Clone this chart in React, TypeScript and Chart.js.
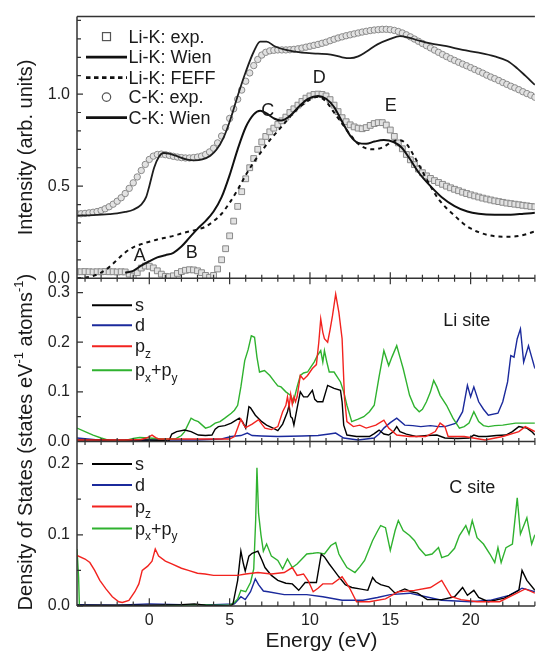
import React, { useEffect, useRef } from 'react';
import { Chart, registerables } from 'chart.js';

Chart.register(...registerables);

const FONT = '"Liberation Sans", Arial, Helvetica, sans-serif';

// ---------- axes ----------
const energyMin = -4.5;
const energyMax = 24;
const energyTicks = [0, 5, 10, 15, 20];
const intensityTicks = [0, 0.5, 1.0];
const liDosTicks = [0, 0.1, 0.2, 0.3];
const cDosTicks = [0, 0.1, 0.2];
const intensityMax = 1.421;
const liDosMax = 0.329;
const cDosMax = 0.231;

// ---------- top panel: experimental spectra ----------
const expEnergy = [
  -4.5, -4.25, -4, -3.75, -3.5, -3.25, -3, -2.75, -2.5, -2.25,
  -2, -1.75, -1.5, -1.25, -1, -0.75, -0.5, -0.25, 0, 0.25,
  0.5, 0.75, 1, 1.25, 1.5, 1.75, 2, 2.25, 2.5, 2.75,
  3, 3.25, 3.5, 3.75, 4, 4.25, 4.5, 4.75, 5, 5.25,
  5.5, 5.75, 6, 6.25, 6.5, 6.75, 7, 7.25, 7.5, 7.75,
  8, 8.25, 8.5, 8.75, 9, 9.25, 9.5, 9.75, 10, 10.25,
  10.5, 10.75, 11, 11.25, 11.5, 11.75, 12, 12.25, 12.5, 12.75,
  13, 13.25, 13.5, 13.75, 14, 14.25, 14.5, 14.75, 15, 15.25,
  15.5, 15.75, 16, 16.25, 16.5, 16.75, 17, 17.25, 17.5, 17.75,
  18, 18.25, 18.5, 18.75, 19, 19.25, 19.5, 19.75, 20, 20.25,
  20.5, 20.75, 21, 21.25, 21.5, 21.75, 22, 22.25, 22.5, 22.75,
  23, 23.25, 23.5, 23.75, 24,
];
const liKExp = [
  0.035, 0.035, 0.036, 0.035, 0.034, 0.035, 0.035, 0.036, 0.035, 0.035,
  0.034, 0.035, 0.034, 0.022, 0.012, 0.03, 0.055, 0.066, 0.065, 0.056,
  0.04, 0.022, 0.01, 0.008, 0.013, 0.026, 0.036, 0.043, 0.046, 0.045,
  0.04, 0.03, 0.015, 0.005, 0.015, 0.05, 0.1, 0.16, 0.23, 0.31,
  0.39, 0.47, 0.54, 0.6, 0.65, 0.7, 0.74, 0.77, 0.795, 0.815,
  0.835, 0.855, 0.875, 0.9, 0.92, 0.94, 0.96, 0.978, 0.99, 0.998,
  1.0, 0.998, 0.99, 0.97, 0.94, 0.905, 0.872, 0.85, 0.833, 0.822,
  0.815, 0.812, 0.818, 0.83, 0.84, 0.845, 0.845, 0.832, 0.805, 0.77,
  0.735, 0.703, 0.672, 0.643, 0.617, 0.593, 0.573, 0.556, 0.542, 0.53,
  0.52, 0.51, 0.5, 0.491, 0.483, 0.475, 0.467, 0.46, 0.453, 0.447,
  0.441, 0.435, 0.43, 0.425, 0.42, 0.416, 0.412, 0.408, 0.405, 0.402,
  0.399, 0.396, 0.393, 0.39, 0.388,
];
const cKExp = [
  0.35, 0.35, 0.352, 0.355, 0.358, 0.362, 0.368, 0.377, 0.388, 0.402,
  0.418, 0.437, 0.46, 0.488, 0.518, 0.55, 0.585, 0.618, 0.645, 0.663,
  0.672, 0.674, 0.671, 0.667, 0.662, 0.658, 0.655, 0.653, 0.653, 0.655,
  0.658, 0.663, 0.672, 0.686, 0.706, 0.735, 0.772, 0.818, 0.868, 0.92,
  0.972, 1.022, 1.07, 1.115, 1.155, 1.188, 1.212, 1.227, 1.235, 1.238,
  1.24, 1.24, 1.24, 1.241, 1.243, 1.246, 1.25, 1.255, 1.26, 1.265,
  1.27, 1.276, 1.282, 1.29, 1.298, 1.305, 1.311, 1.317, 1.322, 1.327,
  1.332, 1.337, 1.341, 1.345, 1.348, 1.35, 1.352, 1.352, 1.35, 1.346,
  1.34, 1.332, 1.322, 1.311, 1.299, 1.287, 1.275, 1.263, 1.251, 1.239,
  1.227, 1.215, 1.204, 1.193, 1.183, 1.173, 1.163, 1.154, 1.144, 1.134,
  1.124, 1.114, 1.103, 1.093, 1.084, 1.074, 1.063, 1.053, 1.043, 1.034,
  1.024, 1.013, 1.003, 0.994, 0.983,
];

// ---------- top panel: calculated spectra [energy, intensity] ----------
const liKWien = [
  [-1.5, 0.03], [-1.0, 0.04], [-0.5, 0.068], [0, 0.092], [0.5, 0.113], [1.0, 0.125],
  [1.5, 0.138], [2.0, 0.172], [2.5, 0.22], [3.0, 0.268], [3.5, 0.31], [4.0, 0.362],
  [4.5, 0.44], [5.0, 0.56], [5.5, 0.7], [6.0, 0.82], [6.5, 0.89], [6.9, 0.91],
  [7.3, 0.895], [7.8, 0.866], [8.2, 0.856], [8.8, 0.885], [9.4, 0.94], [9.9, 0.975],
  [10.5, 0.99], [11.0, 0.975], [11.5, 0.93], [12.0, 0.85], [12.5, 0.775], [13.0, 0.735],
  [13.5, 0.73], [14.0, 0.742], [14.6, 0.75], [15.2, 0.74], [15.7, 0.71], [16.2, 0.65],
  [16.8, 0.57], [17.5, 0.5], [18.2, 0.44], [19.0, 0.392], [19.8, 0.362], [20.5, 0.35],
  [21.5, 0.345], [22.5, 0.345], [23.3, 0.35], [24.0, 0.355],
];
const liKFeff = [
  [-4.5, 0.0], [-4.0, 0.003], [-3.5, 0.012], [-3.0, 0.03], [-2.5, 0.06], [-2.0, 0.1],
  [-1.5, 0.14], [-1.0, 0.168], [-0.5, 0.185], [0, 0.198], [0.5, 0.21], [1.0, 0.22],
  [1.5, 0.23], [2.0, 0.243], [2.5, 0.254], [3.0, 0.265], [3.5, 0.28], [4.0, 0.31],
  [4.5, 0.35], [5.0, 0.41], [5.5, 0.48], [6.0, 0.56], [6.5, 0.63], [7.0, 0.69],
  [7.5, 0.75], [8.0, 0.8], [8.5, 0.85], [9.0, 0.9], [9.5, 0.94], [10.0, 0.97],
  [10.5, 0.985], [11.0, 0.96], [11.5, 0.9], [12.0, 0.84], [12.5, 0.78], [13.0, 0.73],
  [13.5, 0.705], [14.0, 0.7], [14.5, 0.71], [15.0, 0.735], [15.5, 0.75], [16.0, 0.73],
  [16.5, 0.66], [17.0, 0.58], [17.5, 0.5], [18.0, 0.43], [18.5, 0.38], [19.0, 0.34],
  [19.5, 0.3], [20.0, 0.27], [20.5, 0.25], [21.0, 0.236], [21.5, 0.228], [22.0, 0.225],
  [22.5, 0.225], [23.0, 0.23], [23.5, 0.24], [24.0, 0.255],
];
const cKWien = [
  [-4.5, 0.34], [-3.5, 0.343], [-2.5, 0.348], [-2.0, 0.352], [-1.5, 0.36], [-1.0, 0.372],
  [-0.5, 0.4], [-0.2, 0.44], [0.0, 0.5], [0.3, 0.6], [0.6, 0.66], [0.9, 0.68],
  [1.3, 0.675], [1.8, 0.66], [2.3, 0.645], [2.8, 0.64], [3.3, 0.645], [3.8, 0.665],
  [4.2, 0.7], [4.6, 0.76], [5.0, 0.85], [5.5, 0.99], [6.0, 1.12], [6.5, 1.23],
  [6.9, 1.285], [7.3, 1.285], [7.8, 1.26], [8.5, 1.24], [9.5, 1.225], [10.5, 1.22],
  [11.3, 1.215], [12.0, 1.2], [12.5, 1.195], [13.0, 1.205], [13.5, 1.23], [14.2, 1.27],
  [15.0, 1.3], [15.6, 1.315], [16.2, 1.305], [16.8, 1.29], [17.5, 1.275], [18.5, 1.26],
  [19.5, 1.24], [20.5, 1.225], [21.5, 1.205], [22.3, 1.18], [22.9, 1.14], [23.4, 1.1],
  [24.0, 1.05],
];

// ---------- middle panel: Li site DOS [energy, states] ----------
const liS = [
  [-4.5, 0.003], [-2.0, 0.003], [0.0, 0.003], [1.0, 0.002], [1.2, 0.0], [1.4, 0.015],
  [1.7, 0.02], [2.2, 0.023], [2.6, 0.02], [3.05, 0.013], [3.5, 0.012], [3.9, 0.013],
  [4.1, 0.025], [4.3, 0.03], [4.7, 0.032], [5.1, 0.037], [5.6, 0.047], [5.8, 0.04],
  [6.0, 0.027], [6.2, 0.07], [6.3, 0.068], [6.6, 0.053], [7.0, 0.04], [7.3, 0.033],
  [7.7, 0.027], [8.0, 0.022], [8.3, 0.035], [8.6, 0.06], [8.7, 0.073], [8.8, 0.05],
  [8.9, 0.047], [9.0, 0.033], [9.2, 0.067], [9.4, 0.1], [9.6, 0.09], [9.85, 0.09],
  [10.15, 0.103], [10.3, 0.085], [10.46, 0.08], [10.8, 0.08], [11.1, 0.113], [11.5, 0.107],
  [11.9, 0.103], [12.0, 0.08], [12.1, 0.033], [12.3, 0.013], [12.9, 0.01], [13.7, 0.01],
  [14.0, 0.016], [14.3, 0.023], [14.6, 0.015], [14.9, 0.013], [15.2, 0.02], [15.4, 0.03],
  [15.6, 0.02], [16.0, 0.015], [16.6, 0.01], [17.3, 0.012], [17.9, 0.013], [18.4, 0.007],
  [19.2, 0.006], [19.9, 0.007], [20.2, 0.013], [20.5, 0.01], [21.0, 0.01], [21.6, 0.012],
  [22.2, 0.013], [22.6, 0.02], [23.0, 0.03], [23.5, 0.027], [23.8, 0.02], [24.0, 0.013],
];
const liD = [
  [-4.5, 0.007], [-3.5, 0.004], [-2.1, 0.0], [-1.0, 0.002], [1.0, 0.003], [3.0, 0.003],
  [4.5, 0.005], [5.1, 0.01], [5.7, 0.012], [6.1, 0.017], [6.4, 0.012], [7.0, 0.011],
  [8.0, 0.01], [9.5, 0.011], [10.5, 0.012], [11.2, 0.015], [11.6, 0.017], [12.1, 0.007],
  [13.0, 0.003], [14.0, 0.007], [14.3, 0.015], [14.6, 0.027], [15.0, 0.038], [15.4, 0.047],
  [15.9, 0.033], [16.4, 0.032], [16.9, 0.03], [17.5, 0.032], [18.0, 0.03], [18.4, 0.03],
  [19.1, 0.037], [19.5, 0.06], [19.8, 0.113], [20.0, 0.09], [20.2, 0.11], [20.5, 0.08],
  [20.8, 0.065], [21.1, 0.053], [21.7, 0.057], [22.0, 0.08], [22.3, 0.12], [22.5, 0.173],
  [22.7, 0.17], [22.9, 0.207], [23.1, 0.227], [23.3, 0.16], [23.6, 0.193], [23.8, 0.17],
  [24.0, 0.147],
];
const liPz = [
  [-4.5, 0.003], [-3.0, 0.003], [-1.5, 0.003], [-0.5, 0.004], [-0.1, 0.008], [0.17, 0.013],
  [0.4, 0.008], [0.6, 0.005], [2.0, 0.005], [3.5, 0.005], [5.0, 0.005], [5.3, 0.01],
  [5.5, 0.027], [5.7, 0.045], [5.85, 0.035], [6.0, 0.028], [6.4, 0.035], [6.8, 0.044],
  [7.0, 0.035], [7.2, 0.027], [7.6, 0.024], [8.0, 0.03], [8.3, 0.06], [8.5, 0.073],
  [8.6, 0.09], [8.7, 0.07], [8.8, 0.095], [8.9, 0.075], [9.0, 0.09], [9.1, 0.08],
  [9.2, 0.09], [9.4, 0.133], [9.6, 0.125], [9.85, 0.133], [10.15, 0.147], [10.4, 0.155],
  [10.55, 0.2], [10.67, 0.247], [10.8, 0.22], [10.9, 0.207], [11.1, 0.2], [11.25, 0.225],
  [11.4, 0.253], [11.6, 0.297], [11.8, 0.26], [12.0, 0.207], [12.15, 0.087], [12.3, 0.04],
  [12.7, 0.03], [13.1, 0.033], [13.5, 0.027], [14.1, 0.033], [14.6, 0.043], [14.9, 0.027],
  [15.4, 0.013], [16.2, 0.01], [17.2, 0.01], [17.8, 0.02], [18.1, 0.037], [18.4, 0.03],
  [18.6, 0.01], [19.6, 0.01], [20.9, 0.003], [22.0, 0.01], [23.0, 0.02], [23.4, 0.03],
  [24.0, 0.02],
];
const liPxPy = [
  [-4.5, 0.027], [-4.0, 0.02], [-3.5, 0.013], [-3.0, 0.007], [-2.5, 0.002], [-2.1, 0.0],
  [-1.5, 0.002], [-1.0, 0.006], [-0.6, 0.008], [0.0, 0.007], [0.8, 0.005], [1.6, 0.005],
  [2.0, 0.012], [2.2, 0.02], [2.6, 0.047], [2.8, 0.043], [3.05, 0.04], [3.5, 0.027],
  [3.8, 0.03], [4.1, 0.037], [4.4, 0.04], [4.7, 0.047], [5.1, 0.057], [5.3, 0.063],
  [5.5, 0.073], [5.7, 0.11], [5.94, 0.163], [6.15, 0.185], [6.35, 0.213], [6.55, 0.21],
  [6.7, 0.17], [6.86, 0.14], [7.17, 0.143], [7.5, 0.133], [7.8, 0.12], [8.0, 0.112],
  [8.2, 0.11], [8.5, 0.1], [8.8, 0.093], [8.97, 0.08], [9.2, 0.11], [9.4, 0.133],
  [9.6, 0.138], [9.85, 0.14], [10.05, 0.15], [10.26, 0.16], [10.46, 0.173], [10.67, 0.183],
  [10.8, 0.16], [10.9, 0.183], [11.05, 0.16], [11.2, 0.14], [11.5, 0.14], [11.9, 0.12],
  [12.1, 0.1], [12.3, 0.073], [12.6, 0.04], [13.0, 0.045], [13.35, 0.05], [13.7, 0.06],
  [14.0, 0.073], [14.3, 0.13], [14.6, 0.183], [14.9, 0.153], [15.1, 0.17], [15.4, 0.193],
  [15.6, 0.17], [15.8, 0.147], [16.0, 0.12], [16.2, 0.093], [16.5, 0.07], [16.8, 0.06],
  [17.0, 0.065], [17.25, 0.08], [17.5, 0.1], [17.7, 0.123], [17.9, 0.11], [18.1, 0.093],
  [18.5, 0.073], [18.9, 0.047], [19.3, 0.027], [19.6, 0.03], [19.9, 0.037], [20.2, 0.06],
  [20.5, 0.04], [20.8, 0.032], [21.1, 0.03], [21.5, 0.032], [22.0, 0.033], [22.4, 0.035],
  [22.8, 0.037], [23.4, 0.037], [24.0, 0.037],
];

// ---------- bottom panel: C site DOS [energy, states] ----------
const cS = [
  [-4.5, 0.001], [-2.0, 0.001], [0.0, 0.001], [2.0, 0.002], [2.8, 0.003], [3.5, 0.001],
  [5.0, 0.0], [5.2, 0.002], [5.5, 0.036], [5.7, 0.077], [5.85, 0.06], [5.97, 0.049],
  [6.2, 0.07], [6.4, 0.074], [6.76, 0.077], [7.0, 0.065], [7.2, 0.054], [7.6, 0.043],
  [8.0, 0.036], [8.5, 0.032], [8.9, 0.031], [9.3, 0.022], [9.7, 0.033], [10.4, 0.033],
  [10.7, 0.073], [10.9, 0.069], [11.2, 0.059], [11.5, 0.05], [11.8, 0.041], [12.2, 0.03],
  [12.6, 0.026], [13.1, 0.024], [13.6, 0.022], [13.9, 0.04], [14.1, 0.034], [14.4, 0.03],
  [14.9, 0.027], [15.3, 0.018], [15.9, 0.024], [16.3, 0.02], [16.7, 0.018], [17.3, 0.009],
  [18.2, 0.009], [19.0, 0.013], [19.5, 0.026], [19.8, 0.015], [20.2, 0.022], [20.5, 0.012],
  [21.1, 0.006], [22.1, 0.011], [23.0, 0.022], [23.2, 0.05], [23.5, 0.036], [24.0, 0.022],
];
const cD = [
  [-4.5, 0.002], [-2.0, 0.001], [0.0, 0.003], [2.0, 0.002], [4.0, 0.002], [5.3, 0.003],
  [5.7, 0.013], [5.97, 0.009], [6.3, 0.02], [6.6, 0.038], [6.8, 0.03], [7.1, 0.021],
  [7.4, 0.02], [8.4, 0.016], [9.8, 0.016], [10.8, 0.013], [12.0, 0.008], [13.3, 0.008],
  [14.2, 0.012], [15.0, 0.016], [16.2, 0.018], [17.0, 0.014], [18.2, 0.008], [20.0, 0.006],
  [21.2, 0.008], [22.4, 0.015], [23.2, 0.025], [24.0, 0.02],
];
const cPz = [
  [-4.5, 0.071], [-4.0, 0.066], [-3.7, 0.061], [-3.4, 0.05], [-3.08, 0.036], [-2.7, 0.024],
  [-2.3, 0.013], [-1.9, 0.006], [-1.68, 0.005], [-1.27, 0.008], [-0.9, 0.02], [-0.65, 0.031],
  [-0.44, 0.05], [-0.1, 0.056], [0.17, 0.063], [0.37, 0.08], [0.58, 0.07], [1.0, 0.063],
  [1.4, 0.059], [2.0, 0.053], [2.43, 0.05], [3.0, 0.046], [3.47, 0.045], [4.0, 0.043],
  [4.7, 0.043], [5.5, 0.043], [6.0, 0.045], [6.76, 0.047], [7.6, 0.045], [8.4, 0.047],
  [8.9, 0.054], [9.2, 0.043], [9.6, 0.045], [9.9, 0.035], [10.2, 0.02], [10.5, 0.025],
  [10.8, 0.031], [11.4, 0.031], [12.0, 0.041], [12.45, 0.026], [12.9, 0.006], [13.7, 0.006],
  [14.7, 0.01], [15.5, 0.02], [16.5, 0.022], [17.5, 0.026], [18.2, 0.036], [18.8, 0.013],
  [19.4, 0.009], [20.4, 0.006], [21.8, 0.006], [22.6, 0.015], [23.4, 0.024], [24.0, 0.018],
];
const cPxPy = [
  [-4.5, 0.08], [-4.4, 0.04], [-4.35, 0.0], [-2.0, 0.0], [0.0, 0.0], [2.0, 0.001],
  [3.0, 0.002], [4.0, 0.001], [5.0, 0.001], [5.3, 0.005], [5.5, 0.01], [5.7, 0.022],
  [6.0, 0.02], [6.3, 0.033], [6.5, 0.052], [6.62, 0.12], [6.7, 0.194], [6.8, 0.13],
  [6.95, 0.1], [7.1, 0.077], [7.3, 0.087], [7.6, 0.07], [8.0, 0.064], [8.3, 0.052],
  [8.6, 0.066], [8.9, 0.054], [9.2, 0.059], [9.5, 0.066], [9.8, 0.073], [10.2, 0.074],
  [10.5, 0.075], [10.9, 0.073], [11.3, 0.085], [11.6, 0.089], [11.8, 0.073], [12.0, 0.065],
  [12.3, 0.054], [12.8, 0.047], [13.1, 0.055], [13.4, 0.064], [13.9, 0.092], [14.2, 0.105],
  [14.4, 0.113], [14.7, 0.11], [15.0, 0.078], [15.3, 0.106], [15.5, 0.12], [15.8, 0.106],
  [16.2, 0.099], [16.5, 0.092], [16.8, 0.081], [17.2, 0.071], [17.6, 0.073], [18.0, 0.082],
  [18.2, 0.068], [18.6, 0.071], [19.0, 0.081], [19.3, 0.099], [19.7, 0.113], [19.9, 0.101],
  [20.1, 0.12], [20.4, 0.096], [20.8, 0.087], [21.2, 0.073], [21.5, 0.061], [21.7, 0.082],
  [21.9, 0.061], [22.2, 0.082], [22.6, 0.087], [22.9, 0.152], [23.1, 0.101], [23.5, 0.124],
  [23.8, 0.087], [24.0, 0.1],
];

// ---------- labels ----------
const topLegendLabels = ['Li-K: exp.', 'Li-K: Wien', 'Li-K: FEFF', 'C-K: exp.', 'C-K: Wien'];
const peakLetters = ['A', 'B', 'C', 'D', 'E'];
const peakLetterEnergy = [-0.59, 2.65, 7.38, 10.57, 15.03];
const peakLetterIntensity = [0.119, 0.138, 0.906, 1.09, 0.937];
const liSiteLabel = 'Li site';
const cSiteLabel = 'C site';

const COL_S = '#000000';
const COL_D = '#1b2a9c';
const COL_PZ = '#f2231f';
const COL_PXY = '#2fb22f';
const EXP_EDGE = '#8a8a8a';
const EXP_FILL = '#e2e2e2';

type Part = { t: string; sub?: boolean; sup?: boolean };
const pzParts: Part[] = [{ t: 'p' }, { t: 'z', sub: true }];
const pxyParts: Part[] = [{ t: 'p' }, { t: 'x', sub: true }, { t: '+p' }, { t: 'y', sub: true }];
const dosLegend: { parts: Part[]; color: string }[] = [
  { parts: [{ t: 's' }], color: COL_S },
  { parts: [{ t: 'd' }], color: COL_D },
  { parts: pzParts, color: COL_PZ },
  { parts: pxyParts, color: COL_PXY },
];

function drawRich(ctx: CanvasRenderingContext2D, parts: Part[], x: number, y: number, size: number, align: 'left' | 'center') {
  const small = Math.round(size * 0.66);
  let w = 0;
  for (const p of parts) {
    ctx.font = `${p.sub || p.sup ? small : size}px ${FONT}`;
    w += ctx.measureText(p.t).width;
  }
  let cx = align === 'center' ? x - w / 2 : x;
  ctx.textAlign = 'left';
  ctx.textBaseline = 'alphabetic';
  for (const p of parts) {
    ctx.font = `${p.sub || p.sup ? small : size}px ${FONT}`;
    const dy = p.sub ? size * 0.3 : p.sup ? -size * 0.42 : 0;
    ctx.fillText(p.t, cx, y + dy);
    cx += ctx.measureText(p.t).width;
  }
}

const decorPlugin = {
  id: 'decor',
  afterDatasetsDraw(chart: any) {
    const ctx: CanvasRenderingContext2D = chart.ctx;
    const ca = chart.chartArea;
    const sx = chart.scales.x;
    const yT = chart.scales.yTop;
    const yM = chart.scales.yMid;
    const yB = chart.scales.yBot;
    ctx.save();

    // frame and panel dividers
    ctx.strokeStyle = '#333';
    ctx.lineWidth = 1.5;
    ctx.beginPath();
    ctx.moveTo(ca.left, ca.top);
    ctx.lineTo(ca.right, ca.top);
    ctx.moveTo(ca.left, ca.top);
    ctx.lineTo(ca.left, ca.bottom);
    for (const s of [yT, yM, yB]) {
      const yy = s.getPixelForValue(0);
      ctx.moveTo(ca.left, yy);
      ctx.lineTo(ca.right, yy);
    }
    ctx.stroke();

    // x ticks on each panel bottom
    ctx.lineWidth = 1.2;
    ctx.beginPath();
    for (let e = Math.ceil(energyMin); e <= energyMax; e++) {
      const px = sx.getPixelForValue(e);
      const major = e % 5 === 0;
      const len = major ? 6 : 3.5;
      for (const s of [yT, yM]) {
        const yy = s.getPixelForValue(0);
        ctx.moveTo(px, yy - len);
        ctx.lineTo(px, yy + len);
      }
      const yb = yB.getPixelForValue(0);
      ctx.moveTo(px, yb - len * 1.3);
      ctx.lineTo(px, yb);
    }
    // y ticks
    const yTickSets: [any, number, number, number][] = [
      [yT, 0.1, 14, 5],
      [yM, 0.05, 6, 2],
      [yB, 0.05, 4, 2],
    ];
    for (const [s, step, n, every] of yTickSets) {
      for (let k = 0; k <= n; k++) {
        const yy = s.getPixelForValue(k * step);
        const len = k % every === 0 ? 6 : 4;
        ctx.moveTo(ca.left, yy);
        ctx.lineTo(ca.left + len, yy);
      }
    }
    ctx.stroke();

    ctx.fillStyle = '#1a1a1a';

    // axis titles
    ctx.save();
    ctx.translate(31.5, (yT.top + yT.bottom) / 2);
    ctx.rotate(-Math.PI / 2);
    ctx.font = `20px ${FONT}`;
    ctx.textAlign = 'center';
    ctx.textBaseline = 'alphabetic';
    ctx.fillText('Intensity (arb. units)', 0, 0);
    ctx.restore();

    ctx.save();
    ctx.translate(31.5, (yM.top + yB.bottom) / 2);
    ctx.rotate(-Math.PI / 2);
    drawRich(ctx, [
      { t: 'Density of States (states eV' }, { t: '-1', sup: true },
      { t: ' atoms' }, { t: '-1', sup: true }, { t: ')' },
    ], 0, 0, 20, 'center');
    ctx.restore();

    ctx.font = `21px ${FONT}`;
    ctx.textAlign = 'center';
    ctx.textBaseline = 'alphabetic';
    ctx.fillText('Energy (eV)', (ca.left + ca.right) / 2 + 15.5, chart.height - 4);

    // peak letters
    ctx.font = `18px ${FONT}`;
    ctx.textAlign = 'center';
    ctx.textBaseline = 'middle';
    peakLetters.forEach((L, i) => {
      ctx.fillText(L, sx.getPixelForValue(peakLetterEnergy[i]), yT.getPixelForValue(peakLetterIntensity[i]));
    });

    // top legend
    const lx0 = ca.left + 9;
    const lx1 = ca.left + 50;
    const rowY = [32, 52.5, 73, 92.5, 113];
    ctx.font = `18px ${FONT}`;
    ctx.textAlign = 'left';
    ctx.textBaseline = 'middle';
    topLegendLabels.forEach((lab, i) => {
      const yy = yT.top + rowY[i] - 12;
      const mid = (lx0 + lx1) / 2;
      ctx.strokeStyle = '#111';
      ctx.setLineDash([]);
      if (i === 0) {
        ctx.lineWidth = 1.2;
        ctx.fillStyle = '#fff';
        ctx.strokeStyle = '#555';
        ctx.fillRect(mid - 4, yy - 4, 8, 8);
        ctx.strokeRect(mid - 4, yy - 4, 8, 8);
      } else if (i === 3) {
        ctx.lineWidth = 1.2;
        ctx.strokeStyle = '#555';
        ctx.fillStyle = '#fff';
        ctx.beginPath();
        ctx.arc(mid, yy, 4.2, 0, Math.PI * 2);
        ctx.fill();
        ctx.stroke();
      } else {
        ctx.lineWidth = 2.6;
        if (i === 2) ctx.setLineDash([4.5, 3.5]);
        ctx.beginPath();
        ctx.moveTo(lx0, yy);
        ctx.lineTo(lx1, yy);
        ctx.stroke();
        ctx.setLineDash([]);
      }
      ctx.fillStyle = '#1a1a1a';
      ctx.fillText(lab, lx1 + 1.5, yy + 1);
    });

    // DOS legends
    const dosRows: [any, number[]][] = [
      [yM, [27, 47, 68, 92]],
      [yB, [22.5, 43.5, 65, 87]],
    ];
    for (const [s, rows] of dosRows) {
      dosLegend.forEach((item, i) => {
        const yy = s.top + rows[i];
        ctx.strokeStyle = item.color;
        ctx.lineWidth = 2;
        ctx.beginPath();
        ctx.moveTo(ca.left + 15, yy);
        ctx.lineTo(ca.left + 55, yy);
        ctx.stroke();
        ctx.fillStyle = '#1a1a1a';
        drawRich(ctx, item.parts, ca.left + 58, yy + 6, 18, 'left');
      });
    }

    // site labels
    ctx.fillStyle = '#1a1a1a';
    ctx.font = `18px ${FONT}`;
    ctx.textAlign = 'left';
    ctx.textBaseline = 'alphabetic';
    ctx.fillText(liSiteLabel, sx.getPixelForValue(18.3), yM.getPixelForValue(0.232));
    ctx.fillText(cSiteLabel, sx.getPixelForValue(18.67), yB.getPixelForValue(0.159));

    ctx.restore();
  },
};

function pts(arr: number[][]) {
  return arr.map(([x, y]) => ({ x, y }));
}

const noGrid = { display: false, drawTicks: false };

export default function App() {
  const ref = useRef<HTMLCanvasElement | null>(null);
  useEffect(() => {
    document.body.style.margin = '0';
    Chart.defaults.font.family = FONT;
    const lineBase = { showLine: true, pointRadius: 0, fill: false };
    const dos = (data: number[][], color: string, axis: string, order: number) => ({
      ...lineBase, data: pts(data), borderColor: color, borderWidth: 1.4, tension: 0, yAxisID: axis, order,
    });
    const chart = new Chart(ref.current as HTMLCanvasElement, {
      type: 'scatter',
      data: {
        datasets: [
          { ...lineBase, label: 'Li-K: Wien', data: pts(liKWien), yAxisID: 'yTop', borderColor: '#111', borderWidth: 2, cubicInterpolationMode: 'monotone', order: 1 },
          { ...lineBase, label: 'Li-K: FEFF', data: pts(liKFeff), yAxisID: 'yTop', borderColor: '#111', borderWidth: 2, borderDash: [4, 4], cubicInterpolationMode: 'monotone', order: 1 },
          { ...lineBase, label: 'C-K: Wien', data: pts(cKWien), yAxisID: 'yTop', borderColor: '#1e1e1e', borderWidth: 1.8, cubicInterpolationMode: 'monotone', order: 1 },
          {
            label: 'Li-K: exp.', data: expEnergy.map((x, i) => ({ x, y: liKExp[i] })), yAxisID: 'yTop', showLine: false,
            pointStyle: 'rect', pointRadius: 4.1, borderColor: EXP_EDGE, backgroundColor: EXP_FILL, borderWidth: 1, order: 5,
          },
          {
            label: 'C-K: exp.', data: expEnergy.map((x, i) => ({ x, y: cKExp[i] })), yAxisID: 'yTop', showLine: false,
            pointStyle: 'circle', pointRadius: 3.2, borderColor: EXP_EDGE, backgroundColor: EXP_FILL, borderWidth: 1, order: 5,
          },
          dos(liS, COL_S, 'yMid', 2), dos(liD, COL_D, 'yMid', 3), dos(liPz, COL_PZ, 'yMid', 1), dos(liPxPy, COL_PXY, 'yMid', 2),
          dos(cS, COL_S, 'yBot', 2), dos(cD, COL_D, 'yBot', 3), dos(cPz, COL_PZ, 'yBot', 1), dos(cPxPy, COL_PXY, 'yBot', 2),
        ] as any,
      },
      options: {
        responsive: false,
        maintainAspectRatio: false,
        animation: false,
        events: [],
        layout: { padding: { top: 12, right: 0, bottom: 0, left: 0 } },
        plugins: { legend: { display: false }, tooltip: { enabled: false } },
        scales: {
          x: {
            type: 'linear', position: 'bottom', min: energyMin, max: energyMax,
            grid: noGrid, border: { display: false },
            ticks: { font: { size: 16 }, color: '#222', padding: 5, maxRotation: 0, autoSkip: false },
            afterBuildTicks: (s: any) => { s.ticks = energyTicks.map((v) => ({ value: v })); },
            afterFit: (s: any) => { s.height = 45; },
          },
          yBot: {
            type: 'linear', position: 'left', stack: 'panels', stackWeight: 165.7, min: 0, max: cDosMax,
            grid: noGrid, border: { display: false },
            ticks: { font: { size: 16 }, color: '#222', padding: 7, callback: (v: any) => Number(v).toFixed(1) },
            afterBuildTicks: (s: any) => { s.ticks = cDosTicks.map((v) => ({ value: v })); },
            afterFit: (s: any) => { s.width = 77; },
          },
          yMid: {
            type: 'linear', position: 'left', stack: 'panels', stackWeight: 164.5, min: 0, max: liDosMax,
            grid: noGrid, border: { display: false },
            ticks: { font: { size: 16 }, color: '#222', padding: 7, callback: (v: any) => Number(v).toFixed(1) },
            afterBuildTicks: (s: any) => { s.ticks = liDosTicks.map((v) => ({ value: v })); },
            afterFit: (s: any) => { s.width = 77; },
          },
          yTop: {
            type: 'linear', position: 'left', stack: 'panels', stackWeight: 263.5, min: 0, max: intensityMax,
            grid: noGrid, border: { display: false },
            ticks: { font: { size: 16 }, color: '#222', padding: 7, callback: (v: any) => Number(v).toFixed(1) },
            afterBuildTicks: (s: any) => { s.ticks = intensityTicks.map((v) => ({ value: v })); },
            afterFit: (s: any) => { s.width = 77; },
          },
        },
      } as any,
      plugins: [decorPlugin],
    });
    return () => chart.destroy();
  }, []);
  return (
    <div style={{ width: 540, height: 651, background: '#fff' }}>
      <canvas ref={ref} width={540} height={651} style={{ display: 'block' }} />
    </div>
  );
}
